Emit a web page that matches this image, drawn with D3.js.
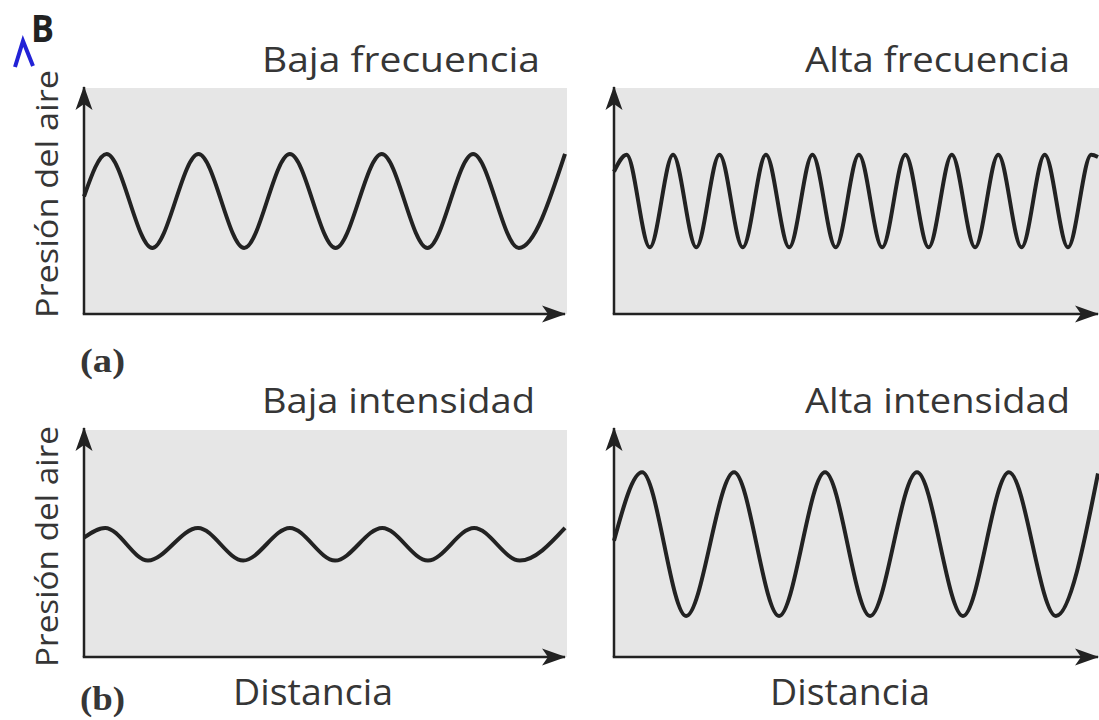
<!DOCTYPE html>
<html>
<head>
<meta charset="utf-8">
<script src="https://cdn.jsdelivr.net/npm/d3@7"></script>
<style>
  html, body { margin: 0; padding: 0; background: #ffffff; }
  svg { display: block; }
  text { font-family: "Open Sans", "Noto Sans", sans-serif; fill: #363636; }
</style>
</head>
<body>
<svg id="chart" width="1099" height="720"></svg>
<script>
// Panel titles, axis titles and sub-figure tags
const panelTitles = ["Baja frecuencia", "Alta frecuencia", "Baja intensidad", "Alta intensidad"];
const yAxisTitle = "Presión del aire";
const xAxisTitle = "Distancia";
const rowTags = ["(a)", "(b)"];
const figureTag = "B";

// Wave turning points: [distancia, presión] on a 0–100 scale per panel
const bajaFrecuencia = [
  [0, 52], [4.7, 70.8], [14.2, 29.2], [23.8, 70.8], [33.3, 29.2], [42.8, 70.8],
  [52.3, 29.2], [61.9, 70.8], [71.4, 29.2], [80.9, 70.8], [90.4, 29.2], [100, 70.8]
];
const altaFrecuencia = [
  [0, 63], [2.6, 70.5], [7.4, 29.5], [12.2, 70.5], [17.0, 29.5], [21.8, 70.5],
  [26.6, 29.5], [31.4, 70.5], [36.2, 29.5], [41.0, 70.5], [45.8, 29.5], [50.6, 70.5],
  [55.4, 29.5], [60.2, 70.5], [65.0, 29.5], [69.8, 70.5], [74.6, 29.5], [79.4, 70.5],
  [84.2, 29.5], [89.0, 70.5], [93.8, 29.5], [98.6, 70.5], [100, 69.5]
];
const bajaIntensidad = [
  [0, 52.4], [4.4, 56.6], [13.3, 42.3], [23.7, 56.6], [33.1, 42.3], [42.8, 56.6],
  [52.2, 42.3], [62.0, 56.6], [71.5, 42.3], [81.1, 56.6], [90.6, 42.3], [100, 56.6]
];
const altaIntensidad = [
  [0, 51], [5.8, 81], [14.9, 18], [24.8, 81], [34.1, 18], [43.6, 81],
  [52.9, 18], [62.6, 81], [72.1, 18], [81.6, 81], [91.3, 18], [100, 80.5]
];

const waves = [bajaFrecuencia, altaFrecuencia, bajaIntensidad, altaIntensidad];

// Layout of the 2×2 grid (pixel frames of each plotting area)
const columns = [
  { x0: 84, x1: 565, bgRight: 567, titleLeft: 262, xTitleLeft: 233 },
  { x0: 614, x1: 1098, bgRight: 1099, titleLeft: 805, xTitleLeft: 770 }
];
const rows = [
  { y0: 314, y1: 88, bgTop: 88, titleY: 72, tagY: 372, yTitleTop: 70, yTitleBottom: 318 },
  { y0: 657, y1: 429, bgTop: 430, titleY: 413, tagY: 710, yTitleTop: 426, yTitleBottom: 667 }
];
const titleWidths = [278, 265, 273, 265];

const svg = d3.select("#chart");

// Barbed arrowhead used on every axis
const defs = svg.append("defs");
defs.append("marker")
  .attr("id", "arrow")
  .attr("markerUnits", "userSpaceOnUse")
  .attr("viewBox", "-24 -10 26 20")
  .attr("refX", 0).attr("refY", 0)
  .attr("markerWidth", 26).attr("markerHeight", 20)
  .attr("orient", "auto")
  .append("path")
  .attr("d", "M1,0 L-23,-8.5 L-17,0 L-23,8.5 Z")
  .attr("fill", "#222");

const line = d3.line().curve(d3.curveMonotoneX);

waves.forEach((wave, i) => {
  const col = columns[i % 2];
  const row = rows[Math.floor(i / 2)];
  const x = d3.scaleLinear().domain([0, 100]).range([col.x0, col.x1]);
  const y = d3.scaleLinear().domain([0, 100]).range([row.y0, row.y1]);

  const g = svg.append("g");

  // shaded plotting area
  g.append("rect")
    .attr("x", x(0))
    .attr("y", row.bgTop)
    .attr("width", col.bgRight - x(0))
    .attr("height", y(0) - row.bgTop)
    .attr("fill", "#e6e6e6");

  // wave
  g.append("path")
    .datum(wave)
    .attr("d", line.x(d => x(d[0])).y(d => y(d[1])))
    .attr("fill", "none")
    .attr("stroke", "#222")
    .attr("stroke-width", 4)
    .attr("stroke-linejoin", "round");

  // axes with arrowheads
  g.append("line")
    .attr("x1", x(0)).attr("y1", y(0))
    .attr("x2", x(0)).attr("y2", y(100) - 1)
    .attr("stroke", "#222").attr("stroke-width", 2.5)
    .attr("marker-end", "url(#arrow)");
  g.append("line")
    .attr("x1", x(0) - 1.25).attr("y1", y(0))
    .attr("x2", x(100)).attr("y2", y(0))
    .attr("stroke", "#222").attr("stroke-width", 2.5)
    .attr("marker-end", "url(#arrow)");

  // panel title above the plotting area
  svg.append("text")
    .attr("x", col.titleLeft)
    .attr("y", row.titleY)
    .attr("font-size", 35)
    .attr("textLength", titleWidths[i])
    .attr("lengthAdjust", "spacingAndGlyphs")
    .text(panelTitles[i]);
});

// vertical axis titles on the left column
rows.forEach(row => {
  const cy = (row.yTitleTop + row.yTitleBottom) / 2;
  svg.append("text")
    .attr("transform", `translate(58,${cy}) rotate(-90)`)
    .attr("text-anchor", "middle")
    .attr("font-size", 31)
    .attr("textLength", row.yTitleBottom - row.yTitleTop)
    .attr("lengthAdjust", "spacingAndGlyphs")
    .text(yAxisTitle);
});

// horizontal axis titles under the bottom row
columns.forEach(col => {
  svg.append("text")
    .attr("x", col.xTitleLeft)
    .attr("y", 705)
    .attr("font-size", 36)
    .attr("textLength", 160)
    .attr("lengthAdjust", "spacingAndGlyphs")
    .text(xAxisTitle);
});

// row tags
rows.forEach((row, j) => {
  svg.append("text")
    .attr("x", 80)
    .attr("y", row.tagY)
    .attr("font-weight", "bold")
    .attr("font-size", 34)
    .attr("textLength", 45)
    .attr("lengthAdjust", "spacingAndGlyphs")
    .style("font-family", "'Liberation Serif', serif")
    .text(rowTags[j]);
});

// figure tag and editing caret
svg.append("text")
  .attr("x", 31)
  .attr("y", 42)
  .attr("font-weight", "bold")
  .attr("font-size", 38)
  .attr("textLength", 23)
  .attr("lengthAdjust", "spacingAndGlyphs")
  .style("fill", "#222")
  .text(figureTag);

svg.append("path")
  .attr("d", "M15,67 L23,41 L33,66")
  .attr("fill", "none")
  .attr("stroke", "#2222d6")
  .attr("stroke-width", 4)
  .attr("stroke-linejoin", "miter");
</script>
</body>
</html>
